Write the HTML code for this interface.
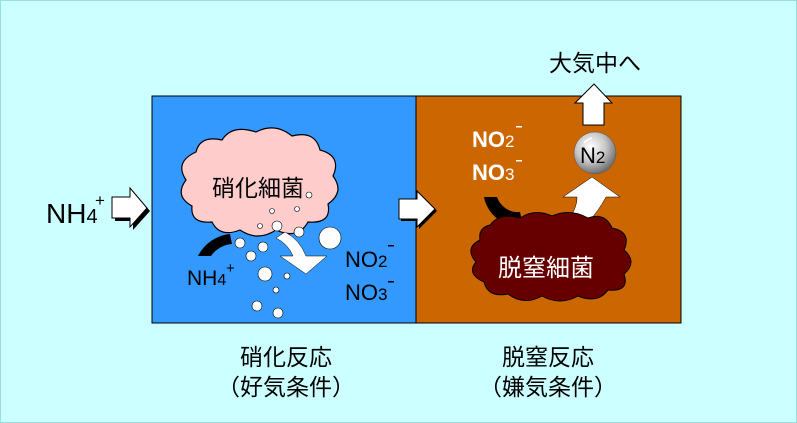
<!DOCTYPE html>
<html><head><meta charset="utf-8"><style>
body{margin:0;background:#ccffff}
svg{display:block}
text{font-family:"Liberation Sans","Noto Sans CJK JP",sans-serif}
</style></head><body>
<svg width="797" height="423" viewBox="0 0 797 423" xmlns="http://www.w3.org/2000/svg">
<defs>
<radialGradient id="g" cx="0.4" cy="0.35" r="0.7">
<stop offset="0" stop-color="#ffffff"/><stop offset="0.5" stop-color="#c8c8c8"/><stop offset="1" stop-color="#606060"/>
</radialGradient>
</defs>
<rect x="0.5" y="0.5" width="796" height="422" fill="#ccffff" stroke="#99dddd"/>
<rect x="152" y="96" width="264" height="227" fill="#3399ff" stroke="#000" stroke-width="1"/>
<rect x="416" y="96" width="265" height="227" fill="#cc6600" stroke="#000" stroke-width="1"/>

<polygon points="115,200 133,200 133,191 150,211 133,230 133,221 115,221" fill="#000"/>
<polygon points="112,197 130,197 130,188 147,208 130,227 130,218 112,218" fill="#fff" stroke="#000"/>
<text x="46" y="223" font-size="28" fill="#000">NH<tspan font-size="20">4</tspan></text>
<text x="95" y="206" font-size="17" fill="#000">+</text>

<polygon points="401,201 419,201 419,193 437,211 419,229 419,221 401,221" fill="#000"/>
<polygon points="399,199 417,199 417,191 435,209 417,227 417,219 399,219" fill="#fff" stroke="#000"/>

<path d="M196,152 Q200,135 222,140 Q232,124 256,132 Q275,122 292,136 Q315,130 320,150 Q342,156 333,176 Q345,192 328,204 Q332,224 308,222 Q298,240 276,230 Q258,242 240,230 Q220,238 212,222 Q190,224 192,206 Q174,196 186,180 Q174,162 196,152 Z" fill="#ffcccc" stroke="#000" stroke-width="1.2"/>
<text x="258" y="196" font-size="23" text-anchor="middle" fill="#000">硝化細菌</text>

<path d="M198,256 A40,40 0 0 1 230,234 L232,244 A28,28 0 0 0 211,256 Z" fill="#000"/>

<path d="M285,232 Q300,240 306,256 L327,256 L306,274 L280,256 L293,256 Q288,244 276,238 Z" fill="#fff" stroke="#000" stroke-width="0.5"/>

<g fill="#fff" stroke="#000" stroke-width="0.6">
<circle cx="309" cy="195" r="3"/><circle cx="272" cy="211" r="2.5"/><circle cx="297" cy="209" r="2.5"/>
<circle cx="277" cy="226" r="5"/><circle cx="260" cy="226" r="2.5"/><circle cx="299" cy="232" r="5"/>
<circle cx="330" cy="238" r="11"/><circle cx="240" cy="243" r="5"/><circle cx="263" cy="247" r="5"/>
<circle cx="251" cy="256" r="5"/><circle cx="265" cy="274" r="7"/><circle cx="287" cy="276" r="3"/>
<circle cx="276" cy="290" r="3"/><circle cx="257" cy="306" r="5"/><circle cx="278" cy="313" r="5"/>
</g>
<text x="187" y="285" font-size="21" fill="#000">NH<tspan font-size="16">4</tspan></text>
<text x="226" y="273" font-size="15" fill="#000">+</text>
<text x="345" y="267" font-size="22" fill="#000">NO<tspan font-size="17">2</tspan></text>
<text x="345" y="300" font-size="22" fill="#000">NO<tspan font-size="17">3</tspan></text>
<rect x="388" y="245" width="6" height="1.5" fill="#000"/>
<rect x="388" y="281" width="6" height="1.5" fill="#000"/>

<text x="472" y="147" font-size="22" font-weight="bold" fill="#fff">NO<tspan font-size="17" font-weight="normal">2</tspan></text>
<text x="472" y="180" font-size="22" font-weight="bold" fill="#fff">NO<tspan font-size="17" font-weight="normal">3</tspan></text>
<rect x="516" y="126" width="6" height="1.5" fill="#fff"/>
<rect x="516" y="160" width="6" height="1.5" fill="#fff"/>
<path d="M484,197 L497,197 A22,22 0 0 0 520,212 L523,226 A36,36 0 0 1 484,197 Z" fill="#000"/>
<path d="M568,222 Q578,205 577,197 L563,197 L592,177 L620,197 L606,197 Q598,212 588,222 Z" fill="#fff" stroke="#000" stroke-width="0.5"/>

<path d="M490,225 Q500,212 520,218 Q535,208 552,216 Q570,208 588,218 Q605,212 612,228 Q632,232 624,250 Q638,262 624,274 Q630,292 608,290 Q598,304 578,296 Q560,306 542,296 Q524,306 508,294 Q488,298 484,282 Q466,274 476,262 Q464,248 480,240 Q478,228 490,225 Z" fill="#660000" stroke="#000" stroke-width="1"/>
<text x="546" y="276" font-size="24" text-anchor="middle" fill="#fff">脱窒細菌</text>

<circle cx="595" cy="153" r="21" fill="url(#g)" stroke="#555" stroke-width="0.5"/>
<path d="M584,143 A14,14 0 0 1 592,138" stroke="#fff" fill="none" stroke-width="1.5"/>
<text x="580" y="163" font-size="22" fill="#000">N<tspan font-size="17">2</tspan></text>

<polygon points="583,125 583,103 575,103 594,84 612,103 604,103 604,125" fill="#fff" stroke="#000"/>
<text x="549" y="71" font-size="23" fill="#000">大気中へ</text>

<text x="286" y="365" font-size="23" text-anchor="middle" fill="#000">硝化反応</text>
<text x="286" y="395" font-size="23" text-anchor="middle" fill="#000">（好気条件）</text>
<text x="548" y="365" font-size="23" text-anchor="middle" fill="#000">脱窒反応</text>
<text x="548" y="395" font-size="23" text-anchor="middle" fill="#000">（嫌気条件）</text>
</svg>
</body></html>
